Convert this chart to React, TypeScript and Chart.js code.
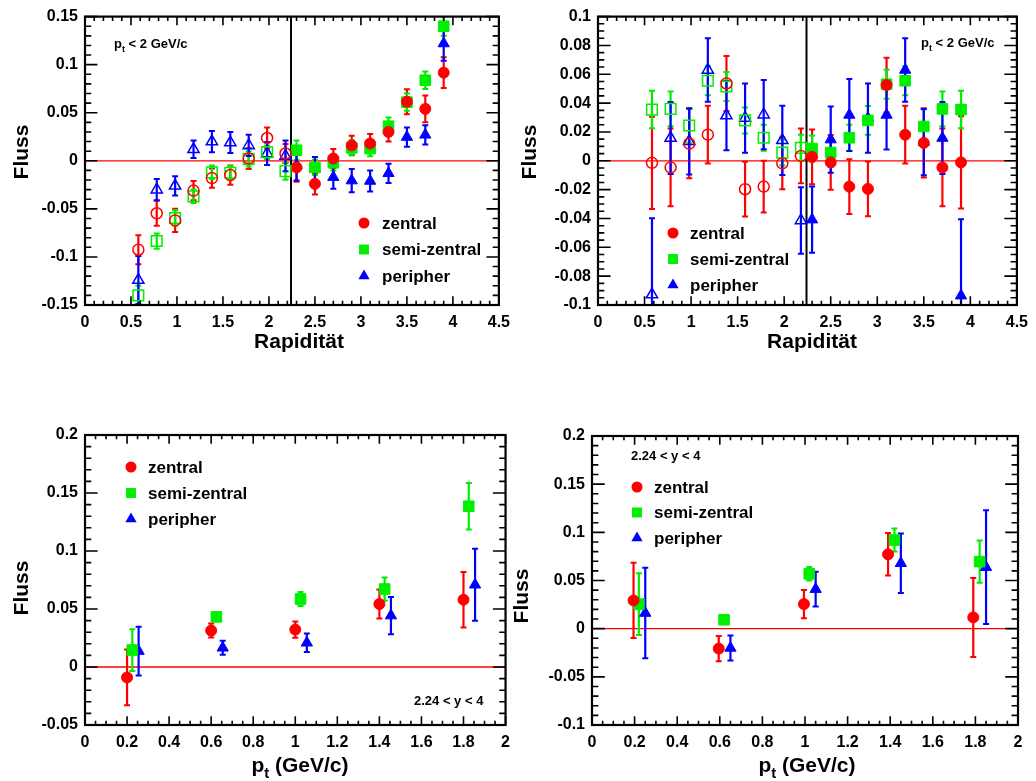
import React, { useEffect, useRef } from "react";
import { Chart, registerables } from "chart.js";

Chart.register(...registerables);

const RED = "#ff0000";
const GREEN = "#00ee00";
const BLUE = "#0000ff";
const FONT = '"Liberation Sans", Arial, Helvetica, sans-serif';

const seriesLabels = ["zentral", "semi-zentral", "peripher"];

// ---------- Rapidity panels: x positions (open = reflected, filled = measured)
const rapidityReflected = [0.58, 0.78, 0.98, 1.18, 1.38, 1.58, 1.78, 1.98, 2.18];
const rapidityMeasured = [2.3, 2.5, 2.7, 2.9, 3.1, 3.3, 3.5, 3.7, 3.9];
const midRapidity = 2.24;

// ---------- Panel A (top-left): directed flow vs rapidity
const aZentralReflected = [-0.0925, -0.0546, -0.062, -0.031, -0.018, -0.0148, 0.0024, 0.0237, 0.0076];
const aZentralReflectedErr = [0.015, 0.013, 0.012, 0.01, 0.01, 0.01, 0.011, 0.011, 0.01];
const aSemiReflected = [-0.14, -0.0835, -0.0595, -0.037, -0.012, -0.0124, 0.002, 0.009, -0.0107];
const aSemiReflectedErr = [0.01, 0.008, 0.008, 0.007, 0.007, 0.007, 0.008, 0.007, 0.009];
const aPeriReflected = [-0.124, -0.03, -0.026, 0.012, 0.02, 0.019, 0.016, 0.0076, 0.005];
const aPeriReflectedErr = [0.025, 0.011, 0.01, 0.009, 0.011, 0.011, 0.011, 0.012, 0.016];

const aZentral = [-0.0069, -0.024, 0.0024, 0.016, 0.018, 0.03, 0.0615, 0.054, 0.0917];
const aZentralErr = [0.015, 0.011, 0.01, 0.01, 0.01, 0.01, 0.013, 0.014, 0.016];
const aSemi = [0.011, -0.0069, -0.002, 0.0134, 0.0127, 0.036, 0.061, 0.0838, 0.14];
const aSemiErr = [0.01, 0.008, 0.008, 0.008, 0.008, 0.009, 0.009, 0.009, 0.01];
const aPeri = [-0.0045, -0.008, -0.017, -0.0206, -0.021, -0.013, 0.0247, 0.027, 0.122];
const aPeriErr = [0.016, 0.012, 0.012, 0.012, 0.011, 0.01, 0.01, 0.01, 0.018];

// ---------- Panel B (top-right): elliptic flow vs rapidity
const bZentralReflected = [-0.0014, -0.0046, 0.0119, 0.0181, 0.0536, -0.0197, -0.0179, -0.0018, 0.0034];
const bZentralReflectedErr = [0.032, 0.027, 0.024, 0.02, 0.019, 0.019, 0.018, 0.018, 0.019];
const bSemiReflected = [0.0355, 0.036, 0.0245, 0.0555, 0.0515, 0.028, 0.016, 0.0057, 0.009];
const bSemiReflectedErr = [0.013, 0.012, 0.012, 0.01, 0.01, 0.009, 0.009, 0.009, 0.009];
const bPeriReflected = [-0.0928, 0.0158, 0.0135, 0.063, 0.0314, 0.0296, 0.032, 0.0142, -0.0414];
const bPeriReflectedErr = [0.053, 0.025, 0.023, 0.022, 0.024, 0.024, 0.024, 0.024, 0.023];

const bZentral = [0.0027, -0.0011, -0.0179, -0.0195, 0.0525, 0.0181, 0.0124, -0.0046, -0.0011];
const bZentralErr = [0.019, 0.019, 0.019, 0.019, 0.019, 0.02, 0.024, 0.027, 0.032];
const bSemi = [0.0085, 0.0057, 0.016, 0.028, 0.0531, 0.0555, 0.0238, 0.036, 0.0355];
const bSemiErr = [0.009, 0.01, 0.009, 0.01, 0.01, 0.01, 0.012, 0.012, 0.013];
const bPeri = [-0.0408, 0.0147, 0.0318, 0.0296, 0.0318, 0.063, 0.013, 0.0158, -0.0935];
const bPeriErr = [0.023, 0.023, 0.025, 0.024, 0.024, 0.022, 0.023, 0.025, 0.053];

// ---------- Panel C (bottom-left): flow vs pt, 2.24 < y < 4
const cPtZentral = [0.2, 0.6, 1.0, 1.4, 1.8];
const cPtSemi = [0.225, 0.625, 1.025, 1.425, 1.825];
const cPtPeri = [0.255, 0.655, 1.055, 1.455, 1.855];
const cZentral = [-0.009, 0.0314, 0.0323, 0.0543, 0.058];
const cZentralErr = [0.024, 0.006, 0.007, 0.0125, 0.024];
const cSemi = [0.0146, 0.0432, 0.0586, 0.0672, 0.1386];
const cSemiErr = [0.018, 0.003, 0.006, 0.01, 0.02];
const cPeri = [0.0137, 0.0166, 0.0209, 0.0443, 0.0709];
const cPeriErr = [0.021, 0.006, 0.008, 0.016, 0.031];

// ---------- Panel D (bottom-right): flow vs pt, 2.24 < y < 4
const dPtZentral = [0.195, 0.595, 0.995, 1.39, 1.79];
const dPtSemi = [0.22, 0.62, 1.02, 1.42, 1.82];
const dPtPeri = [0.25, 0.65, 1.05, 1.45, 1.85];
const dZentral = [0.0293, -0.0207, 0.0255, 0.0772, 0.0117];
const dZentralErr = [0.039, 0.013, 0.0147, 0.022, 0.041];
const dSemi = [0.0255, 0.0093, 0.0569, 0.092, 0.0696];
const dSemiErr = [0.032, 0.002, 0.007, 0.012, 0.022];
const dPeri = [0.0162, -0.02, 0.041, 0.0679, 0.0638];
const dPeriErr = [0.047, 0.013, 0.018, 0.031, 0.059];

type MarkerStyle = "circle" | "rect" | "triangle";
type Series = { label: string; color: string; style: MarkerStyle; xs: number[]; ys: number[]; errs: number[]; open: boolean };
type Part = { t: string; sub?: boolean };

type PanelCfg = {
  left: number; top: number; width: number; height: number;
  yAxisWidth: number; xAxisHeight: number; padTop: number; padRight: number;
  xMin: number; xMax: number; xStep: number; xMinor: number;
  yMin: number; yMax: number; yStep: number; yMinor: number;
  series: Series[];
  vline?: number;
  xTitle: Part[]; xTitleX: number; xTitleY: number;
  yTitleX: number; yTitleY: number;
  note: Part[]; noteX: number; noteY: number;
  legendX: number; legendY: number; legendDy: number; legendTextX: number;
};

const COLORS = [RED, GREEN, BLUE];
const STYLES: MarkerStyle[] = ["circle", "rect", "triangle"];
const RADIUS: Record<MarkerStyle, number> = { circle: 5.5, rect: 7.5, triangle: 6.5 };

function mk(i: number, xs: number[], ys: number[], errs: number[], open: boolean): Series {
  return { label: seriesLabels[i], color: COLORS[i], style: STYLES[i], xs, ys, errs, open };
}

const ptTitle: Part[] = [{ t: "p" }, { t: "t", sub: true }, { t: " (GeV/c)" }];
const ptNote: Part[] = [{ t: "p" }, { t: "t", sub: true }, { t: " < 2 GeV/c" }];
const yNote: Part[] = [{ t: "2.24 < y < 4" }];

const panels: PanelCfg[] = [
  {
    left: 0, top: 0, width: 518, height: 362, yAxisWidth: 85, xAxisHeight: 57, padTop: 14, padRight: 9,
    xMin: 0, xMax: 4.5, xStep: 0.5, xMinor: 0.1, yMin: -0.15, yMax: 0.15, yStep: 0.05, yMinor: 0.01,
    series: [
      mk(0, rapidityReflected, aZentralReflected, aZentralReflectedErr, true),
      mk(1, rapidityReflected, aSemiReflected, aSemiReflectedErr, true),
      mk(2, rapidityReflected, aPeriReflected, aPeriReflectedErr, true),
      mk(0, rapidityMeasured, aZentral, aZentralErr, false),
      mk(1, rapidityMeasured, aSemi, aSemiErr, false),
      mk(2, rapidityMeasured, aPeri, aPeriErr, false),
    ],
    vline: midRapidity,
    xTitle: [{ t: "Rapidität" }], xTitleX: 299, xTitleY: 348,
    yTitleX: 22, yTitleY: 152,
    note: ptNote, noteX: 114, noteY: 48,
    legendX: 364, legendY: 223, legendDy: 26.5, legendTextX: 382,
  },
  {
    left: 518, top: 0, width: 518, height: 362, yAxisWidth: 80, xAxisHeight: 57, padTop: 14, padRight: 15,
    xMin: 0, xMax: 4.5, xStep: 0.5, xMinor: 0.1, yMin: -0.1, yMax: 0.1, yStep: 0.02, yMinor: 0.005,
    series: [
      mk(0, rapidityReflected, bZentralReflected, bZentralReflectedErr, true),
      mk(1, rapidityReflected, bSemiReflected, bSemiReflectedErr, true),
      mk(2, rapidityReflected, bPeriReflected, bPeriReflectedErr, true),
      mk(0, rapidityMeasured, bZentral, bZentralErr, false),
      mk(1, rapidityMeasured, bSemi, bSemiErr, false),
      mk(2, rapidityMeasured, bPeri, bPeriErr, false),
    ],
    vline: midRapidity,
    xTitle: [{ t: "Rapidität" }], xTitleX: 812, xTitleY: 348,
    yTitleX: 530, yTitleY: 152,
    note: ptNote, noteX: 921, noteY: 47,
    legendX: 673, legendY: 233, legendDy: 26, legendTextX: 690,
  },
  {
    left: 0, top: 390, width: 518, height: 391, yAxisWidth: 85, xAxisHeight: 56, padTop: 45, padRight: 8,
    xMin: 0, xMax: 2, xStep: 0.2, xMinor: 0.05, yMin: -0.05, yMax: 0.2, yStep: 0.05, yMinor: 0.01,
    series: [
      mk(0, cPtZentral, cZentral, cZentralErr, false),
      mk(1, cPtSemi, cSemi, cSemiErr, false),
      mk(2, cPtPeri, cPeri, cPeriErr, false),
    ],
    xTitle: ptTitle, xTitleX: 300, xTitleY: 772,
    yTitleX: 22, yTitleY: 588,
    note: yNote, noteX: 414, noteY: 705,
    legendX: 131, legendY: 467, legendDy: 26, legendTextX: 148,
  },
  {
    left: 500, top: 390, width: 536, height: 391, yAxisWidth: 92, xAxisHeight: 56, padTop: 46, padRight: 18,
    xMin: 0, xMax: 2, xStep: 0.2, xMinor: 0.05, yMin: -0.1, yMax: 0.2, yStep: 0.05, yMinor: 0.01,
    series: [
      mk(0, dPtZentral, dZentral, dZentralErr, false),
      mk(1, dPtSemi, dSemi, dSemiErr, false),
      mk(2, dPtPeri, dPeri, dPeriErr, false),
    ],
    xTitle: ptTitle, xTitleX: 807, xTitleY: 772,
    yTitleX: 522, yTitleY: 596,
    note: yNote, noteX: 631, noteY: 460,
    legendX: 637, legendY: 487, legendDy: 25.5, legendTextX: 654,
  },
];

function font(size: number) {
  return `bold ${size}px ${FONT}`;
}

function drawRich(ctx: CanvasRenderingContext2D, parts: Part[], x: number, y: number, size: number, align: "left" | "center") {
  ctx.textAlign = "left";
  ctx.textBaseline = "alphabetic";
  const widths = parts.map((p) => {
    ctx.font = font(p.sub ? size * 0.7 : size);
    return ctx.measureText(p.t).width;
  });
  const total = widths.reduce((a, b) => a + b, 0);
  let cx = align === "center" ? x - total / 2 : x;
  parts.forEach((p, i) => {
    ctx.font = font(p.sub ? size * 0.7 : size);
    ctx.fillText(p.t, cx, p.sub ? y + size * 0.28 : y);
    cx += widths[i];
  });
}

function drawMarker(ctx: CanvasRenderingContext2D, style: MarkerStyle, x: number, y: number, r: number, color: string) {
  ctx.beginPath();
  if (style === "circle") ctx.arc(x, y, r, 0, Math.PI * 2);
  else if (style === "rect") {
    const s = r * Math.SQRT1_2;
    ctx.rect(x - s, y - s, 2 * s, 2 * s);
  } else {
    ctx.moveTo(x, y - r);
    ctx.lineTo(x - r * 0.866, y + r * 0.5);
    ctx.lineTo(x + r * 0.866, y + r * 0.5);
    ctx.closePath();
  }
  ctx.fillStyle = color;
  ctx.fill();
}

function fmt(v: number | string) {
  const n = Number(v);
  if (Math.abs(n) < 1e-9) return "0";
  return String(+n.toFixed(4));
}

function Panel({ cfg }: { cfg: PanelCfg }) {
  const ref = useRef<HTMLCanvasElement>(null);
  useEffect(() => {
    const canvas = ref.current;
    if (!canvas) return;
    const ox = cfg.left;
    const oy = cfg.top;

    const plugin = {
      id: "rootStyle",
      beforeDatasetsDraw(chart: any) {
        const ctx: CanvasRenderingContext2D = chart.ctx;
        const { left, right, top, bottom } = chart.chartArea;
        const xs = chart.scales.x;
        const ys = chart.scales.y;
        ctx.save();
        ctx.beginPath();
        ctx.rect(left, top, right - left, bottom - top);
        ctx.clip();
        // zero line
        const y0 = ys.getPixelForValue(0);
        ctx.strokeStyle = RED;
        ctx.lineWidth = 1.3;
        ctx.beginPath();
        ctx.moveTo(left, y0);
        ctx.lineTo(right, y0);
        ctx.stroke();
        // mid rapidity line
        if (cfg.vline !== undefined) {
          const xv = xs.getPixelForValue(cfg.vline);
          ctx.strokeStyle = "#000";
          ctx.lineWidth = 2;
          ctx.beginPath();
          ctx.moveTo(xv, top);
          ctx.lineTo(xv, bottom);
          ctx.stroke();
        }
        // error bars
        chart.data.datasets.forEach((ds: any) => {
          const errs: number[] = ds.errors;
          ctx.strokeStyle = ds.errColor;
          ds.data.forEach((p: { x: number; y: number }, i: number) => {
            const px = xs.getPixelForValue(p.x);
            const pt = ys.getPixelForValue(p.y + errs[i]);
            const pb = ys.getPixelForValue(p.y - errs[i]);
            ctx.lineWidth = 2.2;
            ctx.beginPath();
            ctx.moveTo(px, pt);
            ctx.lineTo(px, pb);
            ctx.stroke();
            ctx.lineWidth = 2;
            ctx.beginPath();
            ctx.moveTo(px - 3, pt);
            ctx.lineTo(px + 3, pt);
            ctx.moveTo(px - 3, pb);
            ctx.lineTo(px + 3, pb);
            ctx.stroke();
          });
        });
        ctx.restore();
      },
      afterDraw(chart: any) {
        const ctx: CanvasRenderingContext2D = chart.ctx;
        const { left, right, top, bottom } = chart.chartArea;
        const xs = chart.scales.x;
        const ys = chart.scales.y;
        const w = right - left;
        const h = bottom - top;
        ctx.save();
        ctx.strokeStyle = "#000";
        ctx.lineWidth = 1.6;
        // x ticks (bottom and top)
        const xMaj = 0.03 * h;
        const nx = Math.round((cfg.xMax - cfg.xMin) / cfg.xMinor);
        for (let i = 0; i <= nx; i++) {
          const v = cfg.xMin + i * cfg.xMinor;
          const r = (v - cfg.xMin) / cfg.xStep;
          const major = Math.abs(r - Math.round(r)) < 1e-6;
          const len = major ? xMaj : xMaj / 2;
          const px = xs.getPixelForValue(v);
          ctx.beginPath();
          ctx.moveTo(px, bottom);
          ctx.lineTo(px, bottom - len);
          ctx.moveTo(px, top);
          ctx.lineTo(px, top + len);
          ctx.stroke();
        }
        // y ticks (left and right)
        const yMaj = 0.03 * w;
        const ny = Math.round((cfg.yMax - cfg.yMin) / cfg.yMinor);
        for (let i = 0; i <= ny; i++) {
          const v = cfg.yMin + i * cfg.yMinor;
          const r = (v - cfg.yMin) / cfg.yStep;
          const major = Math.abs(r - Math.round(r)) < 1e-6;
          const len = major ? yMaj : yMaj / 2;
          const py = ys.getPixelForValue(v);
          ctx.beginPath();
          ctx.moveTo(left, py);
          ctx.lineTo(left + len, py);
          ctx.moveTo(right, py);
          ctx.lineTo(right - len, py);
          ctx.stroke();
        }
        // frame
        ctx.lineWidth = 2.2;
        ctx.strokeRect(left, top, w, h);

        // texts
        ctx.fillStyle = "#000";
        drawRich(ctx, cfg.xTitle, cfg.xTitleX - ox, cfg.xTitleY - oy, 21, "center");
        ctx.save();
        ctx.translate(cfg.yTitleX - ox, cfg.yTitleY - oy);
        ctx.rotate(-Math.PI / 2);
        ctx.font = font(21);
        ctx.textAlign = "center";
        ctx.textBaseline = "middle";
        ctx.fillText("Fluss", 0, 0);
        ctx.restore();
        ctx.fillStyle = "#000";
        drawRich(ctx, cfg.note, cfg.noteX - ox, cfg.noteY - oy, 13, "left");

        // legend
        for (let i = 0; i < 3; i++) {
          const ly = cfg.legendY - oy + i * cfg.legendDy;
          const lr = STYLES[i] === "circle" ? 5.5 : STYLES[i] === "rect" ? 7 : 6.5;
          drawMarker(ctx, STYLES[i], cfg.legendX - ox, ly, lr, COLORS[i]);
          ctx.fillStyle = "#000";
          ctx.font = font(17);
          ctx.textAlign = "left";
          ctx.textBaseline = "middle";
          ctx.fillText(seriesLabels[i], cfg.legendTextX - ox, ly + 1);
        }
        ctx.restore();
      },
    };

    const tickFont = { family: FONT, size: 16, weight: "bold" as const };

    const chart = new Chart(canvas, {
      type: "scatter",
      data: {
        datasets: cfg.series.map((s) => ({
          label: s.label,
          data: s.xs.map((x, i) => ({ x, y: s.ys[i] })),
          errors: s.errs,
          errColor: s.color,
          pointStyle: s.style,
          pointRadius: RADIUS[s.style],
          pointHoverRadius: RADIUS[s.style],
          pointBackgroundColor: s.open ? "rgba(255,255,255,0)" : s.color,
          pointBorderColor: s.color,
          pointBorderWidth: s.open ? 1.5 : 1,
          showLine: false,
        })) as any,
      },
      options: {
        animation: false,
        responsive: false,
        devicePixelRatio: 1,
        events: [],
        layout: { padding: { top: cfg.padTop, right: cfg.padRight, left: 0, bottom: 0 } },
        plugins: { legend: { display: false }, tooltip: { enabled: false } },
        scales: {
          x: {
            type: "linear",
            min: cfg.xMin,
            max: cfg.xMax,
            afterFit: (s: any) => {
              s.height = cfg.xAxisHeight;
            },
            ticks: { stepSize: cfg.xStep, font: tickFont, color: "#000", padding: 8, maxRotation: 0, autoSkip: false, callback: (v: any) => fmt(v) },
            grid: { display: false, drawTicks: false },
            border: { display: false },
          },
          y: {
            type: "linear",
            min: cfg.yMin,
            max: cfg.yMax,
            afterFit: (s: any) => {
              s.width = cfg.yAxisWidth;
            },
            ticks: { stepSize: cfg.yStep, font: tickFont, color: "#000", padding: 7, autoSkip: false, callback: (v: any) => fmt(v) },
            grid: { display: false, drawTicks: false },
            border: { display: false },
          },
        },
      } as any,
      plugins: [plugin],
    });
    return () => chart.destroy();
  }, [cfg]);

  return (
    <canvas
      ref={ref}
      width={cfg.width}
      height={cfg.height}
      style={{ position: "absolute", left: cfg.left, top: cfg.top, width: cfg.width, height: cfg.height }}
    />
  );
}

export default function App() {
  return (
    <div style={{ position: "absolute", left: 0, top: 0, width: 1036, height: 781, background: "#fff", overflow: "hidden" }}>
      {panels.map((p, i) => (
        <Panel key={i} cfg={p} />
      ))}
    </div>
  );
}
